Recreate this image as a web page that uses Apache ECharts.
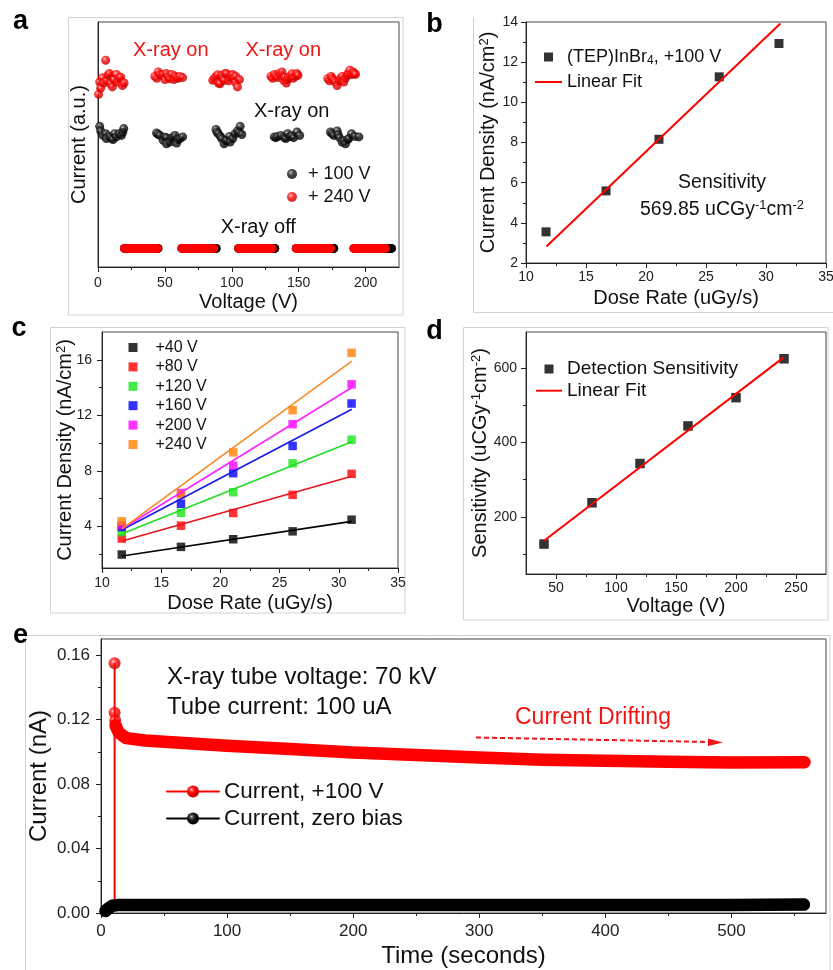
<!DOCTYPE html>
<html><head><meta charset="utf-8">
<script src="https://cdn.jsdelivr.net/npm/echarts@6/dist/echarts.min.js"></script>
<style>html,body{margin:0;padding:0;background:#fff}#c{width:833px;height:970px}</style>
</head><body><div id="c"></div>
<script>
const FONT = "'Liberation Sans', Arial, Helvetica, sans-serif";

// ---------------- Panel a data ----------------
const aXTicks = [0, 50, 100, 150, 200];
const aXMinor = [25, 75, 125, 175];
const aOnRed = [
  [0.5,7.05],[1.25,7.55],[2,7.3],[3.2,7.72],[4.25,7.51],[5.75,8.44],[6.5,7.6],[7.5,7.82],[8.5,7.9],[9.5,7.48],[10.75,7.35],[12,7.65],[13.75,7.86],[14.5,7.55],[15.75,7.69],[17,7.75],[18.25,7.41],[19.5,7.51],
  [42.5,7.78],[44,7.7],[45,7.96],[46,7.85],[47.5,7.82],[48.75,7.86],[50,7.65],[51,7.9],[52.5,7.76],[53.5,7.68],[55,7.86],[56.75,7.65],[57.5,7.8],[58.75,7.73],[60,7.7],[61.25,7.78],[63.25,7.73],
  [85.75,7.62],[87,7.7],[88.25,7.78],[89.5,7.85],[90,7.51],[91.25,7.48],[92.5,7.82],[93.5,7.7],[94.25,7.62],[95,7.9],[96.25,7.89],[97.5,7.6],[98.75,7.73],[99.5,7.82],[100.75,7.86],[101.5,7.7],[102.5,7.55],[103,7.78],[104.25,7.35],[105.75,7.65],
  [129.25,7.78],[130.5,7.7],[131.75,7.86],[133,7.8],[134.25,7.73],[135.5,7.9],[136.75,7.82],[137.5,7.96],[138.75,7.62],[139.5,7.75],[140.75,7.51],[141.5,7.65],[142.5,7.73],[144,7.8],[145,7.89],[146,7.7],[147.5,7.78],[148.5,7.9],[149.5,7.82],
  [171.75,7.69],[173,7.6],[174.25,7.78],[175,7.7],[176.25,7.62],[177.5,7.55],[178.75,7.41],[180,7.6],[181.25,7.69],[182.5,7.78],[183.75,7.55],[185,7.7],[186.25,7.82],[187,7.9],[188.25,8.03],[189.5,7.85],[190.75,7.96],[191.5,7.9],[192.5,7.86]
];
const aOnBlack = [
  [1.25,5.74],[2,5.55],[3.75,5.37],[5.75,5.44],[6.25,5.24],[8.75,5.33],[10,5.25],[11.25,5.2],[12.5,5.44],[13.75,5.31],[15.75,5.44],[17.5,5.37],[18.5,5.5],[19.25,5.65],
  [43.75,5.47],[45,5.42],[46.25,5.37],[48.75,5.17],[50,5.3],[51.25,5.28],[51.25,5.03],[53.75,5.1],[55,5.25],[56.25,5.31],[57.5,5.37],[58.75,5.06],[60,5.2],[61.25,5.24],[63.25,5.31],
  [88.25,5.61],[89,5.5],[90,5.44],[91.5,5.33],[92.5,5.24],[94.25,5.03],[95.5,5.15],[96.25,5.17],[98.25,5.33],[98.75,5.1],[100.75,5.24],[102.5,5.44],[104.25,5.55],[105.5,5.5],[106.25,5.74],[107.5,5.41],
  [131.75,5.31],[133,5.28],[134.25,5.33],[136.75,5.37],[139.25,5.28],[140.5,5.24],[141.75,5.44],[143.75,5.33],[145,5.36],[146.25,5.28],[148.75,5.51],[150.75,5.37],
  [173.75,5.51],[175,5.45],[176.25,5.37],[178.75,5.55],[179.5,5.4],[180.5,5.28],[182.5,5.1],[184,5.15],[185,5.03],[186.5,5.2],[187.5,5.24],[189.5,5.44],[192,5.33],[195,5.31]
];
// X-ray off: first and last point of each dense run
const aOffRed = [[19.8,44.2],[62.7,86.5],[105.1,130.2],[148.2,173.8],[191.3,214.9]];
const aOffBlack = [[19.8,44.8],[62.7,88.3],[105.1,132.1],[148.2,176.2],[191.3,219.3]];
const aOffLevel = 0.76;

// ---------------- Panel b data ----------------
const bDose = [11.67, 16.67, 21.08, 26.1, 31.08];
const bCurrent = [3.55, 5.59, 8.16, 11.27, 12.93];
const bFitX = [11.7, 31.2];
const bFitY = [2.82, 13.93];
const doseTicks = [10, 15, 20, 25, 30, 35];
const doseMinor = [12.5, 17.5, 22.5, 27.5, 32.5];
const bYTicks = [2, 4, 6, 8, 10, 12, 14];
const bYMinor = [3, 5, 7, 9, 11, 13];

// ---------------- Panel c data ----------------
const cDose = [11.67, 16.67, 21.08, 26.1, 31.08];
const cNames = ['+40 V', '+80 V', '+120 V', '+160 V', '+200 V', '+240 V'];
const c40  = [1.97, 2.52, 3.07, 3.64, 4.48];
const c80  = [3.12, 4.05, 4.96, 6.27, 7.78];
const c120 = [3.59, 4.98, 6.46, 8.54, 10.24];
const c160 = [3.95, 5.63, 7.83, 9.79, 12.85];
const c200 = [4.07, 6.40, 8.37, 11.36, 14.23];
const c240 = [4.36, 6.30, 9.33, 12.37, 16.5];
const cFitX = [11.7, 31.1];
const cFitStart = [1.87, 2.95, 3.47, 3.76, 3.83, 3.83];
const cFitEnd   = [4.36, 7.61, 10.1, 12.44, 14.0, 15.9];
const cYTicks = [4, 8, 12, 16];
const cYMinor = [2, 6, 10, 14];

// ---------------- Panel d data ----------------
const dVoltage = [40, 80, 120, 160, 200, 240];
const dSens = [126.6, 237.6, 343.2, 444.3, 520.4, 625];
const dFitX = [40, 240];
const dFitY = [135.6, 629.5];
const dXTicks = [50, 100, 150, 200, 250];
const dXMinor = [75, 125, 175, 225];
const dYTicks = [200, 400, 600];
const dYMinor = [100, 300, 500];

// ---------------- Panel e data ----------------
const eRedRise = [[0,0.0015],[10.8,0.0015],[10.8,0.1549]];
const eRedSpike = [[10.8,0.1549],[10.8,0.1242],[11.3,0.1195]];
const eRedBand = [[11.5,0.1165],[14,0.112],[20,0.1085],[35,0.107],[50,0.1062],[75,0.105],[100,0.1038],[150,0.1017],[200,0.0996],[250,0.098],[300,0.0965],[350,0.0951],[400,0.0945],[450,0.0938],[500,0.0933],[557.9,0.0936]];
const eBlackBand = [[3.5,0.0012],[6,0.003],[9,0.0045],[13,0.0049],[50,0.005],[100,0.005],[200,0.005],[300,0.005],[400,0.005],[500,0.005],[557.5,0.0052]];
const eXTicks = [0, 100, 200, 300, 400, 500];
const eXMinor = [50, 150, 250, 350, 450, 550];
const eYTicks = [0, 0.04, 0.08, 0.12, 0.16];
const eYMinor = [0.02, 0.06, 0.10, 0.14];

// ---------------- styles ----------------
const AX = '#222';
const redBall = {type:'radial', x:0.38, y:0.35, r:0.62, colorStops:[{offset:0,color:'#ffe8e8'},{offset:0.18,color:'#ff5a5a'},{offset:0.5,color:'#ff0000'},{offset:1,color:'#c20000'}]};
const blackBall = {type:'radial', x:0.38, y:0.35, r:0.62, colorStops:[{offset:0,color:'#dddddd'},{offset:0.18,color:'#5c5c5c'},{offset:0.5,color:'#161616'},{offset:1,color:'#000000'}]};

const rects = [
  {left:98, top:22, width:301, height:245},
  {left:526, top:22, width:300, height:241},
  {left:102, top:332, width:296, height:236},
  {left:526, top:332, width:300, height:242},
  {left:101, top:639, width:725, height:274}
];
const base = {backgroundColor:'transparent', outerBoundsMode:'none', containLabel:false};
// main grids (0-4) with border, and overlay grids (5-9) carrying only the minor ticks
const grids = rects.map(g => Object.assign({show:true, borderColor:'#444', borderWidth:1}, base, g))
  .concat(rects.map(g => Object.assign({show:false}, base, g)));

const supRich = {sup:{fontSize:13, verticalAlign:'top', lineHeight:12, fontFamily:FONT, color:'#111'}};

function mainAxis(dim, gi, c) {
  const hasMajor = c.major.length > 0;
  return {
    type:'value', gridIndex:gi, min:c.min, max:c.max,
    position: dim === 'x' ? 'bottom' : 'left',
    axisLine:{show:true, onZero:false, lineStyle:{color:AX, width:1}},
    axisTick:{show:hasMajor, customValues:c.major, length:5, lineStyle:{color:AX, width:1}},
    axisLabel:{show:hasMajor, customValues:c.major, margin:c.margin, fontSize:c.fs || 14, fontFamily:FONT, color:'#222',
               formatter: c.fmt || (v => String(v)), showMinLabel:true, showMaxLabel:true},
    splitLine:{show:false}, minorTick:{show:false},
    name:c.name, nameLocation:'middle', nameGap:c.gap, nameMoveOverlap:false,
    nameTextStyle:{fontSize:c.nfs || 20, fontFamily:FONT, color:'#111', rich:supRich}
  };
}
function minorAxis(dim, gi, c) {
  return {
    type:'value', gridIndex:gi + 5, min:c.min, max:c.max,
    position: dim === 'x' ? 'bottom' : 'left',
    axisLine:{show:false, onZero:false}, axisLabel:{show:false}, splitLine:{show:false},
    axisTick:{show:c.minor.length > 0, customValues:c.minor.length ? c.minor : [c.min], length:3, lineStyle:{color:AX, width:1}}
  };
}
const axCfg = [
  [{min:0, max:225, major:aXTicks, minor:aXMinor, margin:9, name:'Voltage (V)', gap:25},
   {min:0, max:10, major:[], minor:[], name:'Current (a.u.)', gap:9}],
  [{min:10, max:35, major:doseTicks, minor:doseMinor, margin:7, name:'Dose Rate (uGy/s)', gap:25},
   {min:2, max:14, major:bYTicks, minor:bYMinor, margin:8, name:'Current Density (nA/cm{sup|2})', gap:28}],
  [{min:10, max:35, major:doseTicks, minor:doseMinor, margin:8, name:'Dose Rate (uGy/s)', gap:25},
   {min:1, max:18, major:cYTicks, minor:cYMinor, margin:10, name:'Current Density (nA/cm{sup|2})', gap:27}],
  [{min:25, max:275, major:dXTicks, minor:dXMinor, margin:7, name:'Voltage (V)', gap:22},
   {min:46, max:697, major:dYTicks, minor:dYMinor, margin:9, name:'Sensitivity (uCGy{sup|-1}cm{sup|-2})', gap:36}],
  [{min:0, max:575, major:eXTicks, minor:eXMinor, fs:17, margin:10, name:'Time (seconds)', nfs:24, gap:31},
   {min:0, max:0.17, major:eYTicks, minor:eYMinor, fs:17, margin:11, fmt:v => v.toFixed(2), name:'Current (nA)', nfs:24, gap:50}]
];
const xAxes = axCfg.map((c, i) => mainAxis('x', i, c[0])).concat(axCfg.map((c, i) => minorAxis('x', i, c[0])));
const yAxes = axCfg.map((c, i) => mainAxis('y', i, c[1])).concat(axCfg.map((c, i) => minorAxis('y', i, c[1])));

const series = [];
function ax(gi) { return {xAxisIndex:gi, yAxisIndex:gi}; }
const zip = (xs, ys) => xs.map((x, i) => [x, ys[i]]);

// ---- a ----
aOffBlack.forEach(s => series.push(Object.assign({type:'line', data:[[s[0],aOffLevel],[s[1],aOffLevel]], symbol:'none',
  lineStyle:{color:'#000', width:9, cap:'round'}, silent:true}, ax(0))));
series.push(Object.assign({type:'scatter', data:aOffBlack.map(s => [s[1], aOffLevel]), symbolSize:9, itemStyle:{color:blackBall}, silent:true}, ax(0)));
aOffRed.forEach(s => series.push(Object.assign({type:'line', data:[[s[0],aOffLevel],[s[1],aOffLevel]], symbol:'none',
  lineStyle:{color:'#ff0000', width:9, cap:'round'}, silent:true}, ax(0))));
series.push(Object.assign({type:'scatter', data:aOffRed.map(s => [s[1], aOffLevel]), symbolSize:9, itemStyle:{color:redBall}, silent:true}, ax(0)));
series.push(Object.assign({type:'scatter', name:'+ 100 V', data:aOnBlack, symbolSize:9, itemStyle:{color:blackBall}}, ax(0)));
series.push(Object.assign({type:'scatter', name:'+ 240 V', data:aOnRed, symbolSize:9, itemStyle:{color:redBall}}, ax(0)));

// ---- b ----
series.push(Object.assign({type:'line', name:'Linear Fit', data:zip(bFitX, bFitY), symbol:'none', lineStyle:{color:'#ff0000', width:2}, itemStyle:{color:'#ff0000'}}, ax(1)));
series.push(Object.assign({type:'scatter', name:'(TEP)InBr4, +100 V', data:zip(bDose, bCurrent), symbol:'rect', symbolSize:9, itemStyle:{color:'#000'}}, ax(1)));

// ---- c ----
const cVals = [c40, c80, c120, c160, c200, c240];
const cColors = ['#000000', '#ff0000', '#19e619', '#0000ff', '#ff00ff', '#ff8000'];
const cLineColors = ['#000000', '#e8141c', '#22dd22', '#1a1ae6', '#ff22ff', '#f58a25'];
cVals.forEach((v, i) => series.push(Object.assign({type:'line', data:[[cFitX[0], cFitStart[i]], [cFitX[1], cFitEnd[i]]], symbol:'none',
  lineStyle:{color:cLineColors[i], width:1.6}, silent:true}, ax(2))));
cVals.forEach((v, i) => series.push(Object.assign({type:'scatter', name:cNames[i], data:zip(cDose, v), symbol:'rect', symbolSize:8.5,
  itemStyle:{color:cColors[i]}}, ax(2))));

// ---- d ----
series.push(Object.assign({type:'line', name:'Linear Fit ', data:zip(dFitX, dFitY), symbol:'none', lineStyle:{color:'#ff0000', width:2}, itemStyle:{color:'#ff0000'}}, ax(3)));
series.push(Object.assign({type:'scatter', name:'Detection Sensitivity', data:zip(dVoltage, dSens), symbol:'rect', symbolSize:9.5, itemStyle:{color:'#000'}}, ax(3)));

// ---- e ----
series.push(Object.assign({type:'line', data:eRedRise, symbol:'none', lineStyle:{color:'#ff0000', width:2}, silent:true}, ax(4)));
series.push(Object.assign({type:'line', name:'Current, zero bias', data:eBlackBand, symbol:'circle', showSymbol:false, symbolSize:12,
  lineStyle:{color:'#000', width:12.5, cap:'round', join:'round'}, itemStyle:{color:blackBall}}, ax(4)));
series.push(Object.assign({type:'line', name:'Current, +100 V', data:eRedBand, symbol:'circle', showSymbol:false, symbolSize:12,
  lineStyle:{color:'#ff0000', width:12.5, cap:'round', join:'round'}, itemStyle:{color:redBall}}, ax(4)));
series.push(Object.assign({type:'scatter', data:eRedSpike.concat([eRedBand[eRedBand.length-1]]), symbolSize:12, itemStyle:{color:redBall}, silent:true}, ax(4)));
series.push(Object.assign({type:'scatter', data:[eBlackBand[eBlackBand.length-1]], symbolSize:12, itemStyle:{color:blackBall}, silent:true}, ax(4)));

// ---------------- legends ----------------
const SQ = 'path://M0,0L10,0L10,10L0,10Z';
const LN = 'path://M0,0L27,0L27,2L0,2Z';
function legendBase(o) {
  return Object.assign({orient:'vertical', padding:0, selectedMode:false, textStyle:{fontFamily:FONT, color:'#111'}}, o);
}
const legends = [
  legendBase({left:287, top:164, itemWidth:22, itemHeight:10, itemGap:3, data:['+ 100 V', '+ 240 V'],
    textStyle:{fontFamily:FONT, color:'#111', fontSize:18, lineHeight:20}}),
  legendBase({left:535, top:47, itemWidth:27, itemHeight:9, itemGap:5,
    data:[{name:'(TEP)InBr4, +100 V', icon:SQ}, {name:'Linear Fit', icon:LN}],
    formatter: n => n === '(TEP)InBr4, +100 V' ? '(TEP)InBr{sub|4}, +100 V' : n,
    textStyle:{fontFamily:FONT, color:'#111', fontSize:18, lineHeight:20,
      rich:{sub:{fontSize:12, verticalAlign:'bottom', lineHeight:12, fontFamily:FONT, color:'#111'}}}}),
  legendBase({left:128.5, top:338, itemWidth:35, itemHeight:9, itemGap:0.4,
    data:cNames.map(n => ({name:n, icon:SQ})),
    textStyle:{fontFamily:FONT, color:'#111', fontSize:16, lineHeight:19}}),
  legendBase({left:536, top:359, itemWidth:26, itemHeight:9, itemGap:1.7,
    data:[{name:'Detection Sensitivity', icon:SQ}, {name:'Linear Fit ', icon:LN}],
    textStyle:{fontFamily:FONT, color:'#111', fontSize:19, lineHeight:20}}),
  legendBase({left:166, top:780, itemWidth:52, itemHeight:15, itemGap:4,
    data:['Current, +100 V', 'Current, zero bias'], lineStyle:{width:2},
    textStyle:{fontFamily:FONT, color:'#111', fontSize:22.5, lineHeight:23}})
];

// ---------------- annotations ----------------
function txt(x, y, text, o) {
  return {type:'text', x:x, y:y, silent:true, z:50,
    style:Object.assign({text:text, fontFamily:FONT, fontSize:20, fill:'#111', align:'center', verticalAlign:'middle'}, o || {})};
}
function frame(x, y, w, h) {
  return {type:'rect', silent:true, z:-5, shape:{x:x, y:y, width:w, height:h}, style:{fill:'none', stroke:'#d2d2d2', lineWidth:1}};
}
const graphics = [
  frame(68.5, 17.5, 334.5, 297.5),
  {type:'polyline', silent:true, z:-5, shape:{points:[[473.5,17],[473.5,312.5],[833,312.5]]}, style:{fill:'none', stroke:'#d2d2d2', lineWidth:1}},
  frame(50.5, 327.5, 354.5, 285.5),
  frame(463.5, 327.5, 364.5, 292.5),
  frame(25.5, 635.5, 804.5, 340),
  txt(20.5, 22, 'a', {fontSize:27, fontWeight:'bold', fill:'#000'}),
  txt(434.5, 25, 'b', {fontSize:27, fontWeight:'bold', fill:'#000'}),
  txt(19, 329, 'c', {fontSize:27, fontWeight:'bold', fill:'#000'}),
  txt(434.5, 332, 'd', {fontSize:27, fontWeight:'bold', fill:'#000'}),
  txt(20.5, 636, 'e', {fontSize:27, fontWeight:'bold', fill:'#000'}),
  txt(170.8, 50.7, 'X-ray on', {fill:'#f01414'}),
  txt(283.3, 50.7, 'X-ray on', {fill:'#f01414'}),
  txt(291.7, 111, 'X-ray on'),
  txt(258.3, 227.7, 'X-ray off'),
  txt(722, 183, 'Sensitivity', {fontSize:19.5}),
  txt(722, 210, '569.85 uCGy{sup|-1}cm{sup|-2}', {fontSize:19.5, lineHeight:22,
      rich:{sup:{fontSize:13, verticalAlign:'top', lineHeight:12, fontFamily:FONT, fill:'#111'}}}),
  txt(167, 677, 'X-ray tube voltage: 70 kV', {fontSize:24, align:'left'}),
  txt(167, 707, 'Tube current: 100 uA', {fontSize:24, align:'left'}),
  txt(515, 718, 'Current Drifting', {fontSize:23, align:'left', fill:'#f01414'}),
  {type:'line', silent:true, z:50, shape:{x1:476, y1:737.5, x2:710, y2:742}, style:{stroke:'#f01414', lineWidth:2, lineDash:[5,3]}},
  {type:'polygon', silent:true, z:50, shape:{points:[[708,738.5],[723,742.5],[708,746]]}, style:{fill:'#f01414'}}
];

const chart = echarts.init(document.getElementById('c'), null, {renderer:'canvas'});
chart.setOption({
  animation:false,
  backgroundColor:'#fff',
  textStyle:{fontFamily:FONT},
  grid:grids,
  xAxis:xAxes,
  yAxis:yAxes,
  legend:legends,
  series:series,
  graphic:graphics
});
</script></body></html>
